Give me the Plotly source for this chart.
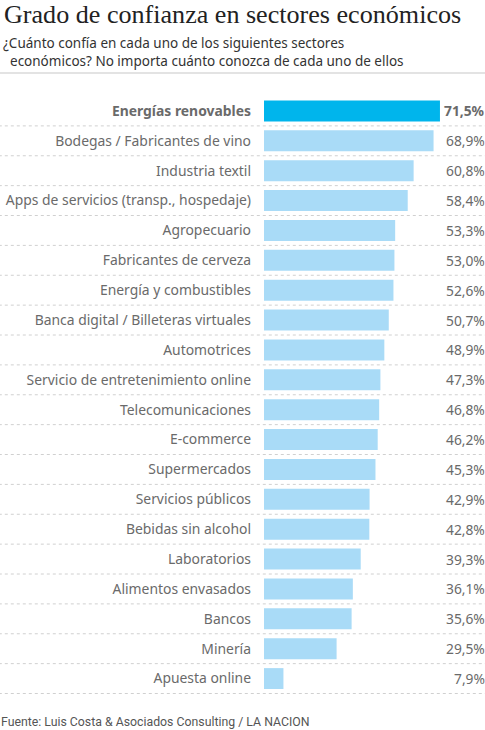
import plotly.graph_objects as go

# Data
sectores = [
    "Energías renovables", "Bodegas / Fabricantes de vino", "Industria textil",
    "Apps de servicios (transp., hospedaje)", "Agropecuario", "Fabricantes de cerveza",
    "Energía y combustibles", "Banca digital / Billeteras virtuales", "Automotrices",
    "Servicio de entretenimiento online", "Telecomunicaciones", "E-commerce",
    "Supermercados", "Servicios públicos", "Bebidas sin alcohol", "Laboratorios",
    "Alimentos envasados", "Bancos", "Minería", "Apuesta online",
]
confianza = [71.5, 68.9, 60.8, 58.4, 53.3, 53.0, 52.6, 50.7, 48.9, 47.3,
             46.8, 46.2, 45.3, 42.9, 42.8, 39.3, 36.1, 35.6, 29.5, 7.9]
destacado = "Energías renovables"

GRAY = "#6a6a6a"
colors = ["#00b5ec" if s == destacado else "#a9dbf7" for s in sectores]
ticktext = ["<b>%s</b>" % s if s == destacado else s for s in sectores]

fig = go.Figure()
fig.add_trace(go.Bar(
    x=confianza, y=sectores, orientation="h",
    marker=dict(color=colors, line=dict(width=0)),
    hoverinfo="skip",
))

# value labels on the right edge
for s, v in zip(sectores, confianza):
    txt = ("%.1f%%" % v).replace(".", ",")
    if s == destacado:
        txt = "<b>%s</b>" % txt
    fig.add_annotation(x=1.0, xref="paper", xanchor="right", y=s, yref="y",
                       text=txt, showarrow=False, xshift=2,
                       font=dict(family="Noto Sans", size=13.8, color=GRAY))

# dotted row separators
for i in range(len(sectores)):
    fig.add_shape(type="line", xref="paper", yref="y", x0=-1.2, x1=1.0,
                  y0=i + 0.5, y1=i + 0.5,
                  line=dict(color="#d0d0d0", width=1, dash="dot"))

# solid line below the subtitle
fig.add_shape(type="line", xref="paper", yref="paper", x0=-1.2, x1=1.0,
              y0=1.0385, y1=1.0385, line=dict(color="#e3e3e3", width=2))

fig.add_annotation(x=-1.186, xref="paper", y=1.137, yref="paper", xanchor="left",
                   yanchor="middle", showarrow=False,
                   text="Grado de confianza en sectores económicos",
                   font=dict(family="Liberation Serif", size=26.1, color="#222"))
fig.add_annotation(x=-1.19, xref="paper", y=1.0736, yref="paper", xanchor="left",
                   yanchor="middle", showarrow=False, align="left",
                   text="¿Cuánto confía en cada uno de los siguientes sectores<br>"
                        "  económicos? No importa cuánto conozca de cada uno de ellos",
                   font=dict(family="Noto Sans", size=13.5, color="#333"))
fig.add_annotation(x=-1.199, xref="paper", y=-0.0468, yref="paper", xanchor="left",
                   yanchor="middle", showarrow=False,
                   text="Fuente: Luis Costa & Asociados Consulting / LA NACION",
                   font=dict(family="Roboto", size=12.3, color="#555"))

fig.update_layout(
    width=485, height=730,
    margin=dict(l=264, r=0, t=96, b=36),
    paper_bgcolor="white", plot_bgcolor="white",
    bargap=0.3, showlegend=False,
    xaxis=dict(range=[0, 89.8], visible=False, fixedrange=True),
    yaxis=dict(autorange="reversed", tickvals=sectores, ticktext=ticktext,
               ticklabelstandoff=12, showgrid=False, zeroline=False,
               showline=False, ticks="", fixedrange=True,
               tickfont=dict(family="Noto Sans", size=13.9, color=GRAY)),
)

fig.write_html("out.html", config={"displayModeBar": False},
               post_script="document.body.style.margin='0';"
                           "document.body.style.overflow='hidden';")
